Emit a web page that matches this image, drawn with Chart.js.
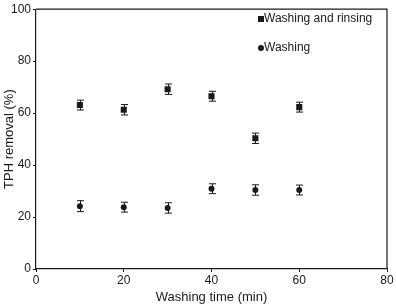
<!DOCTYPE html>
<html>
<head>
<meta charset="utf-8">
<script src="https://cdn.jsdelivr.net/npm/chart.js@4/dist/chart.umd.min.js"></script>
<style>
  html, body { margin: 0; padding: 0; background: #fff; }
  #wrap { width: 396px; height: 305px; }
</style>
</head>
<body>
<div id="wrap"><canvas id="grafico" width="396" height="305"></canvas></div>
<script>
const tempos = [10, 20, 30, 40, 50, 60];
const lavagemEnxague = [63.1, 61.3, 69.2, 66.5, 50.3, 62.3];
const erroLavagemEnxague = [1.9, 2.0, 2.0, 1.9, 2.0, 1.9];
const lavagem = [24.2, 23.8, 23.5, 30.9, 30.4, 30.4];
const erroLavagem = [2.1, 1.9, 2.0, 1.9, 2.0, 1.9];
const ticksX = [0, 20, 40, 60, 80];
const ticksY = [0, 20, 40, 60, 80, 100];

const cor = "#1a1a1a";
const fonte = "'Liberation Sans', Arial, sans-serif";

// barras de erro + moldura + legenda
const extras = {
  id: "extras",
  afterDatasetsDraw(chart) {
    const ctx = chart.ctx;
    const x = chart.scales.x;
    const y = chart.scales.y;
    const area = chart.chartArea;
    ctx.save();
    ctx.strokeStyle = cor;
    ctx.lineWidth = 1;
    chart.data.datasets.forEach(ds => {
      ds.data.forEach((p, i) => {
        const px = Math.round(x.getPixelForValue(p.x)) + 0.5;
        const top = y.getPixelForValue(p.y + ds.erros[i]);
        const bot = y.getPixelForValue(p.y - ds.erros[i]);
        ctx.beginPath();
        ctx.moveTo(px, top);
        ctx.lineTo(px, bot);
        ctx.moveTo(px - 3.5, top);
        ctx.lineTo(px + 3.5, top);
        ctx.moveTo(px - 3.5, bot);
        ctx.lineTo(px + 3.5, bot);
        ctx.stroke();
      });
    });
    ctx.lineWidth = 1.2;
    ctx.beginPath();
    ctx.moveTo(area.left, area.top);
    ctx.lineTo(area.right, area.top);
    ctx.lineTo(area.right, area.bottom);
    ctx.stroke();

    // legenda
    ctx.fillStyle = cor;
    ctx.font = "12px " + fonte;
    ctx.textBaseline = "middle";
    const lx = 258;
    const linhas = [19, 48];
    chart.data.datasets.forEach((ds, k) => {
      const ly = linhas[k];
      if (ds.pointStyle === "rect") {
        ctx.fillRect(lx, ly - 3, 6, 6);
      } else {
        ctx.beginPath();
        ctx.arc(lx + 3, ly, 3, 0, Math.PI * 2);
        ctx.fill();
      }
      ctx.fillText(ds.label, lx + 6, ly);
    });
    ctx.restore();
  }
};

new Chart(document.getElementById("grafico").getContext("2d"), {
  type: "scatter",
  data: {
    datasets: [
      {
        label: "Washing and rinsing",
        data: tempos.map((t, i) => ({ x: t, y: lavagemEnxague[i] })),
        erros: erroLavagemEnxague,
        pointStyle: "rect",
        pointRadius: 4.3,
        backgroundColor: cor,
        borderColor: cor,
        borderWidth: 0
      },
      {
        label: "Washing",
        data: tempos.map((t, i) => ({ x: t, y: lavagem[i] })),
        erros: erroLavagem,
        pointStyle: "circle",
        pointRadius: 3,
        backgroundColor: cor,
        borderColor: cor,
        borderWidth: 0
      }
    ]
  },
  options: {
    responsive: false,
    animation: false,
    layout: { padding: { left: 2, top: 5, right: 9, bottom: 0 } },
    plugins: {
      legend: { display: false },
      tooltip: { enabled: false }
    },
    scales: {
      x: {
        type: "linear",
        min: 0,
        max: 80,
        afterBuildTicks: s => { s.ticks = ticksX.map(v => ({ value: v })); },
        grid: { drawOnChartArea: false, drawTicks: true, tickLength: 3, color: cor },
        border: { display: true, color: cor, width: 1.2 },
        ticks: { color: cor, font: { family: fonte, size: 12 }, padding: 1, maxRotation: 0 },
        title: { display: true, text: "Washing time (min)", color: cor, font: { family: fonte, size: 13 }, padding: { top: 1, bottom: 0 } },
        afterFit: s => { s.height = 36; }
      },
      y: {
        min: 0,
        max: 100,
        afterBuildTicks: s => { s.ticks = ticksY.map(v => ({ value: v })); },
        grid: { drawOnChartArea: false, drawTicks: true, tickLength: 3, color: cor },
        border: { display: true, color: cor, width: 1.2 },
        ticks: { color: cor, font: { family: fonte, size: 12 }, padding: 2 },
        title: { display: true, text: "TPH removal (%)", color: cor, font: { family: fonte, size: 13 }, padding: { top: 0, bottom: 0 } },
        afterFit: s => { s.width = 34; }
      }
    }
  },
  plugins: [extras]
});
</script>
</body>
</html>
